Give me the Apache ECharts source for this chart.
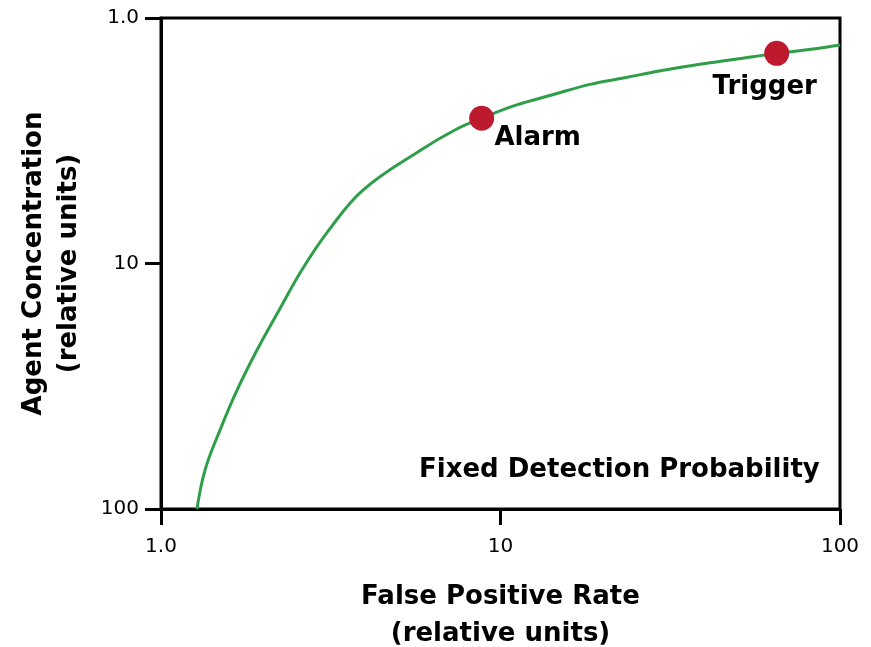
<!DOCTYPE html>
<html>
<head>
<meta charset="utf-8">
<script src="https://cdn.jsdelivr.net/npm/echarts@6/dist/echarts.min.js"></script>
<style>
  html, body { margin: 0; padding: 0; background: #fff; }
  #chart { width: 871px; height: 647px; }
</style>
</head>
<body>
<div id="chart"></div>
<script>
// curve (false positive rate vs agent concentration)
const curveX = [1.276, 1.348, 1.492, 1.675, 1.918, 2.227, 2.602, 3.125, 3.936, 5.83, 7.34, 8.80, 11.16, 14.15, 18.35, 23.27, 29.3, 39.1, 55.4, 65.1, 82.2, 100];
const curveY = [100, 69.4, 47.7, 32.8, 22.5, 15.5, 10.6, 7.30, 5.02, 3.45, 2.86, 2.56, 2.26, 2.06, 1.863, 1.751, 1.644, 1.539, 1.438, 1.393, 1.341, 1.288];
// operating points
const pointNames = ['Alarm', 'Trigger'];
const pointX = [8.80, 65.1];
const pointY = [2.56, 1.393];
const labelOffsets = [[56, 20], [-12, 34]];

const font = '"DejaVu Sans", sans-serif';
const fmt = function (v) { return v === 1 ? '1.0' : String(v); };

const chart = echarts.init(document.getElementById('chart'));
chart.setOption({
    animation: false,
    backgroundColor: '#fff',
    grid: {
        left: 161, top: 18, right: 31, bottom: 138,
        outerBoundsMode: 'none', containLabel: false,
        show: true, borderColor: '#000', borderWidth: 3
    },
    title: {
        text: 'Fixed Detection Probability',
        left: 414, top: 452,
        textStyle: {fontFamily: font, fontSize: 26, fontWeight: 'bold', color: '#000'}
    },
    xAxis: {
        type: 'log', logBase: 10, min: 1, max: 100,
        name: 'False Positive Rate\n(relative units)',
        nameLocation: 'middle', nameGap: 70,
        nameTextStyle: {fontFamily: font, fontSize: 26, fontWeight: 'bold', color: '#000', lineHeight: 37},
        axisLine: {lineStyle: {color: '#000', width: 3}},
        axisTick: {show: true, inside: false, length: 16, lineStyle: {color: '#000', width: 3}},
        minorTick: {show: false},
        splitLine: {show: false},
        axisLabel: {formatter: fmt, fontFamily: font, fontSize: 20, color: '#000', margin: 28}
    },
    yAxis: {
        type: 'log', logBase: 10, min: 1, max: 100, inverse: true,
        name: 'Agent Concentration\n(relative units)',
        nameLocation: 'middle', nameGap: 74, nameRotate: 90,
        nameTextStyle: {fontFamily: font, fontSize: 26, fontWeight: 'bold', color: '#000', lineHeight: 35},
        axisLine: {lineStyle: {color: '#000', width: 3}},
        axisTick: {show: true, inside: false, length: 16, lineStyle: {color: '#000', width: 3}},
        splitLine: {show: false},
        axisLabel: {formatter: fmt, fontFamily: font, fontSize: 20, color: '#000', margin: 22}
    },
    series: [
        {
            type: 'line',
            data: curveX.map(function (x, i) { return [x, curveY[i]]; }),
            smooth: 0.4,
            showSymbol: false,
            lineStyle: {color: '#2e9e48', width: 3},
            z: 2
        },
        {
            type: 'scatter',
            data: pointNames.map(function (n, i) {
                return {
                    name: n, value: [pointX[i], pointY[i]],
                    label: {offset: labelOffsets[i]}
                };
            }),
            symbolSize: 25,
            itemStyle: {color: '#be1a2e', opacity: 1},
            label: {
                show: true, position: 'inside', formatter: '{b}',
                fontFamily: font, fontSize: 26, fontWeight: 'bold', color: '#000'
            },
            z: 3
        }
    ]
});
</script>
</body>
</html>
